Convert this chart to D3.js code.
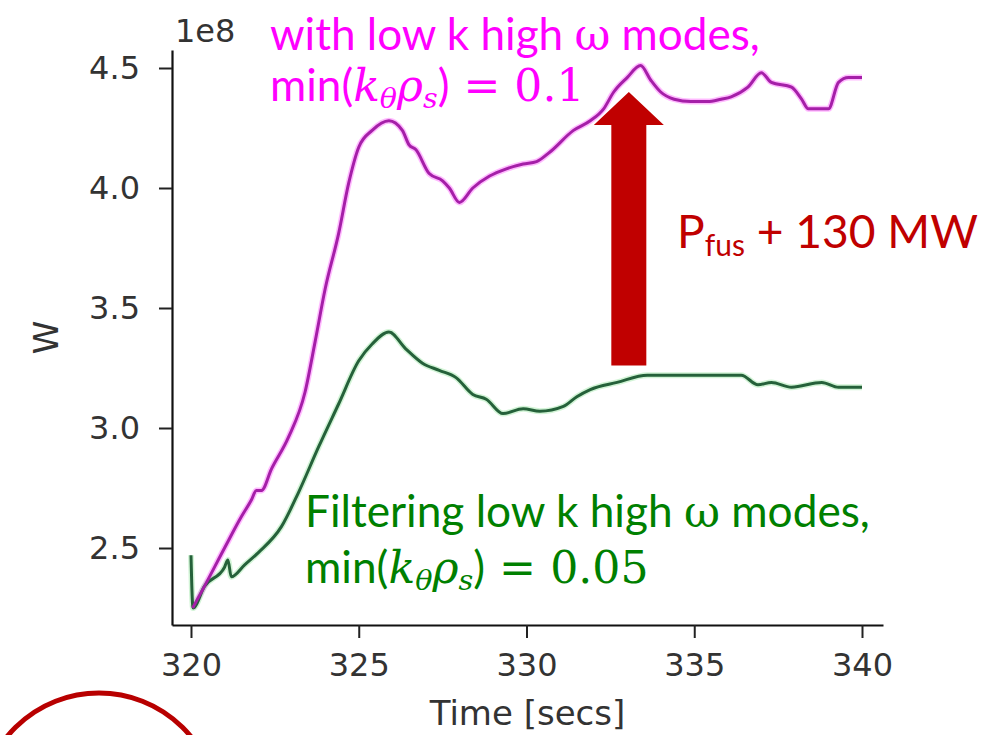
<!DOCTYPE html>
<html>
<head>
<meta charset="utf-8">
<script src="https://cdn.jsdelivr.net/npm/d3@7"></script>
<style>
  html, body { margin: 0; padding: 0; background: #ffffff; }
  svg { display: block; }
</style>
</head>
<body>
<script>
// ---- Data (W in units of 1e8) ----
const timeWith = [320.05,320.4,321.0,321.5,321.8,321.95,322.1,322.4,322.9,323.4,323.7,324.0,324.4,324.7,325.0,325.4,325.9,326.3,326.5,326.7,327.1,327.5,327.7,328.0,328.4,328.9,329.4,329.9,330.3,330.7,331.4,331.9,332.3,332.6,333.0,333.4,333.7,334.0,334.4,334.9,335.4,335.8,336.1,336.6,337.0,337.3,337.9,338.2,338.4,339.0,339.3,339.6,340.0];
const wWith    = [2.25,2.34,2.50,2.63,2.70,2.74,2.74,2.83,2.96,3.15,3.36,3.58,3.81,4.02,4.17,4.24,4.28,4.24,4.18,4.16,4.06,4.03,4.00,3.94,4.00,4.05,4.08,4.10,4.11,4.15,4.24,4.28,4.33,4.40,4.46,4.51,4.45,4.40,4.37,4.36,4.36,4.37,4.38,4.42,4.48,4.44,4.42,4.37,4.33,4.33,4.44,4.46,4.46];

const timeFilt = [320.0,320.06,320.4,321.0,321.1,321.2,321.6,322.0,322.7,323.2,323.8,324.4,325.0,325.4,325.9,326.4,326.9,327.4,327.9,328.4,328.8,329.3,329.9,330.4,331.1,331.5,331.9,332.7,333.6,334.5,335.4,336.4,336.9,337.3,337.9,338.8,339.3,340.0];
const wFilt    = [2.47,2.25,2.34,2.42,2.45,2.38,2.43,2.48,2.59,2.73,2.92,3.10,3.28,3.35,3.40,3.33,3.27,3.24,3.21,3.14,3.12,3.06,3.08,3.07,3.09,3.13,3.16,3.19,3.22,3.22,3.22,3.22,3.18,3.19,3.17,3.19,3.17,3.17];

const xTicks = [320, 325, 330, 335, 340];
const yTicks = [2.5, 3.0, 3.5, 4.0, 4.5];
const xLabel = "Time [secs]";
const yLabel = "W";
const offsetLabel = "1e8";

// annotation arrow in data units
const arrowTime = 333.05, arrowFrom = 3.26, arrowTo = 4.40;

// ---- Layout ----
const W = 999, H = 735;
const x = d3.scaleLinear().domain([319.434, 340.626]).range([172, 883]);
const y = d3.scaleLinear().domain([2.1792, 4.575]).range([625, 50]);

const svg = d3.select("body").append("svg").attr("width", W).attr("height", H)
  .style("background", "#fff");

const tickFont = "DejaVu Sans, sans-serif";

// axes
const gx = svg.append("g").attr("transform", `translate(0,${y.range()[0]})`)
  .call(d3.axisBottom(x).tickValues(xTicks).tickFormat(d3.format("d")).tickSize(13).tickSizeOuter(0).tickPadding(15));
const gy = svg.append("g").attr("transform", `translate(${x.range()[0]},0)`)
  .call(d3.axisLeft(y).tickValues(yTicks).tickFormat(d3.format(".1f")).tickSize(13).tickSizeOuter(0).tickPadding(19));
[gx, gy].forEach(g => {
  g.select(".domain").attr("stroke", "#111").attr("stroke-width", 2.2);
  g.selectAll(".tick line").attr("stroke", "#222").attr("stroke-width", 2);
  g.selectAll(".tick text").attr("fill", "#333").style("font-family", tickFont).style("font-size", "32px");
});

svg.append("text").attr("x", (x.range()[0] + x.range()[1]) / 2).attr("y", 725)
  .attr("text-anchor", "middle").attr("fill", "#333")
  .style("font-family", tickFont).style("font-size", "34px").text(xLabel);
svg.append("text").attr("transform", `translate(58,${(y.range()[0] + y.range()[1]) / 2}) rotate(-90)`)
  .attr("text-anchor", "middle").attr("fill", "#333")
  .style("font-family", tickFont).style("font-size", "34px").text(yLabel);
svg.append("text").attr("x", 175).attr("y", 42).attr("fill", "#333")
  .style("font-family", tickFont).style("font-size", "32px").text(offsetLabel);

// lines
const line = d3.line().x(d => x(d[0])).y(d => y(d[1])).curve(d3.curveMonotoneX);
const withData = timeWith.map((t, i) => [t, wWith[i]]);
const filtData = timeFilt.map((t, i) => [t, wFilt[i]]);

// halos (soft glow like the reference)
svg.append("path").datum(withData).attr("d", line).attr("fill", "none")
  .attr("stroke", "#ff66ff").attr("stroke-opacity", 0.45).attr("stroke-width", 6).attr("stroke-linejoin", "round");
svg.append("path").datum(filtData).attr("d", line).attr("fill", "none")
  .attr("stroke", "#7fe08a").attr("stroke-opacity", 0.35).attr("stroke-width", 6).attr("stroke-linejoin", "round");

svg.append("path").datum(filtData).attr("d", line).attr("fill", "none")
  .attr("stroke", "#25613a").attr("stroke-width", 3).attr("stroke-linejoin", "round");
svg.append("path").datum(withData).attr("d", line).attr("fill", "none")
  .attr("stroke", "#a51fa8").attr("stroke-width", 3).attr("stroke-linejoin", "round");

// arrow
const ax = x(arrowTime), yTip = y(arrowTo), yBot = y(arrowFrom);
const headH = 33, headHalf = 35, shaftHalf = 17.5;
svg.append("path").attr("fill", "#c00000")
  .attr("d", `M${ax},${yTip} L${ax + headHalf},${yTip + headH} L${ax + shaftHalf},${yTip + headH} L${ax + shaftHalf},${yBot} L${ax - shaftHalf},${yBot} L${ax - shaftHalf},${yTip + headH} L${ax - headHalf},${yTip + headH} Z`);

// text helpers
const sans = "Lato, 'Open Sans', sans-serif";
const serif = "'DejaVu Serif', 'Liberation Serif', serif";
function fit(t, targetW) {
  const w = t.node().getBBox().width;
  const fs = parseFloat(t.style("font-size"));
  t.style("font-size", (fs * targetW / w) + "px");
  return fs * targetW / w;
}
function titleLine(xp, yp, color, parts, size) {
  const t = svg.append("text").attr("x", xp).attr("y", yp).attr("fill", color)
    .style("font-size", size + "px").style("font-family", sans);
  const drop = 0.15 * size;
  parts.forEach(p => {
    const s = t.append("tspan").text(p.s);
    if (p.f) s.style("font-family", p.f);
    if (p.i) s.style("font-style", "italic");
    if (p.fs) s.style("font-size", p.fs);
    if (p.shift) s.attr("dy", p.shift * drop);
  });
  return t;
}
function mathParts(val) {
  return [
    {s: "min("},
    {s: "k", f: serif, i: true},
    {s: "θ", f: serif, i: true, fs: "0.65em", shift: 1},
    {s: "ρ", f: serif, i: true, shift: -1},
    {s: "s", f: serif, i: true, fs: "0.65em", shift: 1},
    {s: ")", shift: -1},
    {s: " = " + val, f: serif}
  ];
}
const ttl1 = [{s: "with low k high "}, {s: "ω", f: serif}, {s: " modes,"}];
const ttl2 = [{s: "Filtering low k high "}, {s: "ω", f: serif}, {s: " modes,"}];

const t1 = titleLine(270, 50, "#ff00ff", ttl1, 40);
const fs1 = fit(t1, 490);
titleLine(270, 101, "#ff00ff", mathParts("0.1"), fs1);
const t3 = titleLine(305, 527, "#008000", ttl2, 40);
const fs3 = fit(t3, 565);
titleLine(305, 583, "#008000", mathParts("0.05"), fs3);

// P_fus + 130 MW
const pt = svg.append("text").attr("x", 677).attr("y", 248).attr("fill", "#c00000")
  .style("font-family", sans).style("font-size", "46px");
pt.append("tspan").text("P");
pt.append("tspan").text("fus").style("font-size", "0.65em").attr("dy", "0.27em");
pt.append("tspan").text(" + 130 MW").attr("dy", "-0.175em");
fit(pt, 301);

// red ellipse fragment at bottom left
svg.append("ellipse").attr("cx", 99).attr("cy", 810).attr("rx", 118).attr("ry", 117)
  .attr("fill", "none").attr("stroke", "#b80000").attr("stroke-width", 5);
</script>
</body>
</html>
